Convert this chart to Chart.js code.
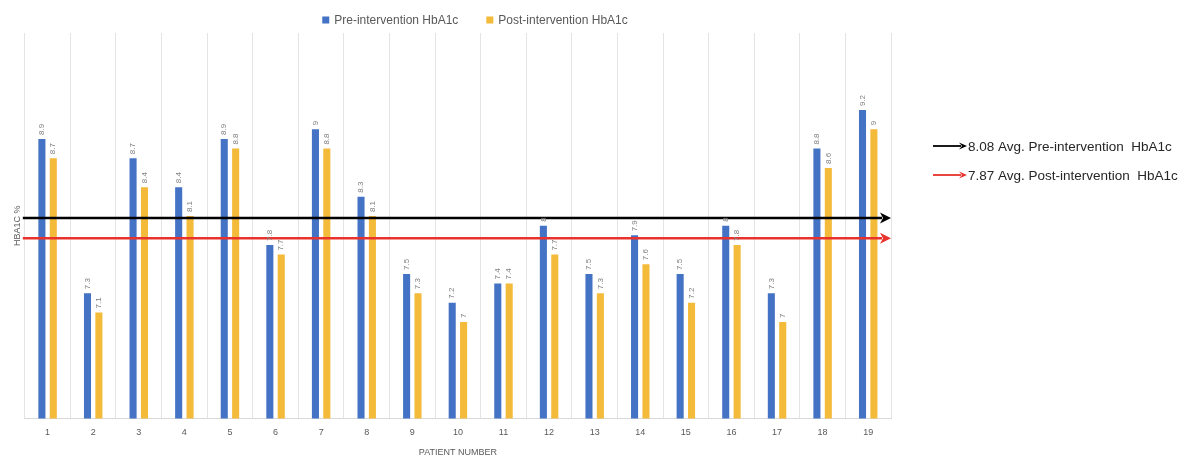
<!DOCTYPE html>
<html>
<head>
<meta charset="utf-8">
<script src="https://cdn.jsdelivr.net/npm/chart.js@4"></script>
<style>
  html, body { margin: 0; padding: 0; background: #ffffff; }
  #wrap { width: 1193px; height: 457px; position: relative; }
</style>
</head>
<body>
<div id="wrap"><canvas id="c" width="1193" height="457"></canvas></div>
<script>
// Patient numbers on the x axis
const patients = ['1','2','3','4','5','6','7','8','9','10','11','12','13','14','15','16','17','18','19'];
// HbA1c (%) before and after the intervention
const preHbA1c  = [8.9, 7.3, 8.7, 8.4, 8.9, 7.8, 9.0, 8.3, 7.5, 7.2, 7.4, 8.0, 7.5, 7.9, 7.5, 8.0, 7.3, 8.8, 9.2];
const postHbA1c = [8.7, 7.1, 8.4, 8.1, 8.8, 7.7, 8.8, 8.1, 7.3, 7.0, 7.4, 7.7, 7.3, 7.6, 7.2, 7.8, 7.0, 8.6, 9.0];
// Group averages shown as arrows across the plot
const avgPre  = 8.08;
const avgPost = 7.87;
const avgLabels = ['8.08 Avg. Pre-intervention  HbA1c', '7.87 Avg. Post-intervention  HbA1c'];

const BLUE = '#4472C4';
const GOLD = '#F4BA3A';
const RED  = '#E8322B';
const FONT = "'Liberation Sans', Arial, sans-serif";

// Vertical value labels above each bar (drawn last so the average arrows never hide them)
const valueLabels = {
  id: 'valueLabels',
  afterDraw(chart) {
    const ctx = chart.ctx;
    ctx.save();
    ctx.fillStyle = '#7f7f7f';
    ctx.font = '8px ' + FONT;
    ctx.textAlign = 'left';
    ctx.textBaseline = 'middle';
    chart.data.datasets.forEach((ds, di) => {
      const meta = chart.getDatasetMeta(di);
      meta.data.forEach((bar, i) => {
        ctx.save();
        ctx.translate(bar.x, bar.y - 4);
        ctx.rotate(-Math.PI / 2);
        ctx.fillText(String(ds.data[i]), 0, 0);
        ctx.restore();
      });
    });
    ctx.restore();
  }
};

function arrow(ctx, x1, x2, y, color, head, lw) {
  ctx.strokeStyle = color;
  ctx.fillStyle = color;
  ctx.lineWidth = lw;
  ctx.beginPath();
  ctx.moveTo(x1, y);
  ctx.lineTo(x2 - head, y);
  ctx.stroke();
  ctx.beginPath();
  ctx.moveTo(x2, y);
  ctx.lineTo(x2 - head - 2, y - head * 0.6);
  ctx.lineTo(x2 - head + 1, y);
  ctx.lineTo(x2 - head - 2, y + head * 0.6);
  ctx.closePath();
  ctx.fill();
}

// Average arrows across the plot plus their captions on the right
const averageArrows = {
  id: 'averageArrows',
  afterDatasetsDraw(chart) {
    const ctx = chart.ctx;
    const area = chart.chartArea;
    const y = chart.scales.y;
    ctx.save();
    arrow(ctx, area.left - 2, area.right, y.getPixelForValue(avgPre), '#000000', 9, 2.5);
    arrow(ctx, area.left - 2, area.right, y.getPixelForValue(avgPost), RED, 9, 2.5);

    const cx = area.right + 42;
    const rows = [
      { y: 146, color: '#000000', text: avgLabels[0] },
      { y: 175, color: RED, text: avgLabels[1] }
    ];
    ctx.font = '13.5px ' + FONT;
    ctx.textBaseline = 'middle';
    ctx.textAlign = 'left';
    rows.forEach(r => {
      arrow(ctx, cx, cx + 34, r.y, r.color, 6, 1.8);
      ctx.fillStyle = '#262626';
      ctx.fillText(r.text, cx + 35, r.y + 1);
    });
    ctx.restore();
  }
};

// Series key along the top of the figure
const LEGEND_CENTER_X = 475;
const seriesKey = {
  id: 'seriesKey',
  afterDraw(chart) {
    const ctx = chart.ctx;
    const box = 7, gap = 5, spacing = 28, yMid = 20;
    ctx.save();
    ctx.font = '12px ' + FONT;
    ctx.textBaseline = 'middle';
    ctx.textAlign = 'left';
    const items = chart.data.datasets.map(ds => ({
      text: ds.label, color: ds.backgroundColor, w: box + gap + ctx.measureText(ds.label).width
    }));
    const total = items.reduce((s, it) => s + it.w, 0) + spacing * (items.length - 1);
    let x = LEGEND_CENTER_X - total / 2;
    items.forEach(it => {
      ctx.fillStyle = it.color;
      ctx.fillRect(x, yMid - box / 2, box, box);
      ctx.fillStyle = '#595959';
      ctx.fillText(it.text, x + box + gap, yMid + 1);
      x += it.w + spacing;
    });
    ctx.restore();
  }
};

new Chart(document.getElementById('c'), {
  type: 'bar',
  data: {
    labels: patients,
    datasets: [
      { label: 'Pre-intervention HbA1c',  data: preHbA1c,  backgroundColor: BLUE },
      { label: 'Post-intervention HbA1c', data: postHbA1c, backgroundColor: GOLD }
    ]
  },
  options: {
    responsive: false,
    animation: false,
    devicePixelRatio: 1,
    layout: { padding: { left: 10, right: 302, top: 33, bottom: -1 } },
    datasets: { bar: { categoryPercentage: 0.5, barPercentage: 0.62 } },
    plugins: {
      legend: { display: false },
      tooltip: { enabled: false }
    },
    scales: {
      x: {
        grid: { color: '#e4e4e4', lineWidth: 1, drawTicks: false },
        border: { color: '#d9d9d9' },
        ticks: { font: { size: 9, family: FONT }, color: '#595959', padding: 9 },
        title: { display: true, text: 'PATIENT NUMBER', font: { size: 9, family: FONT }, color: '#595959', padding: { top: 0, bottom: 0 } }
      },
      y: {
        min: 6,
        max: 10,
        grid: { display: false, drawTicks: false },
        border: { display: false },
        ticks: { display: false },
        title: { display: true, text: 'HBA1C %', font: { size: 9, family: FONT }, color: '#595959', padding: { top: 2, bottom: 2 } }
      }
    }
  },
  plugins: [averageArrows, valueLabels, seriesKey]
});
</script>
</body>
</html>
